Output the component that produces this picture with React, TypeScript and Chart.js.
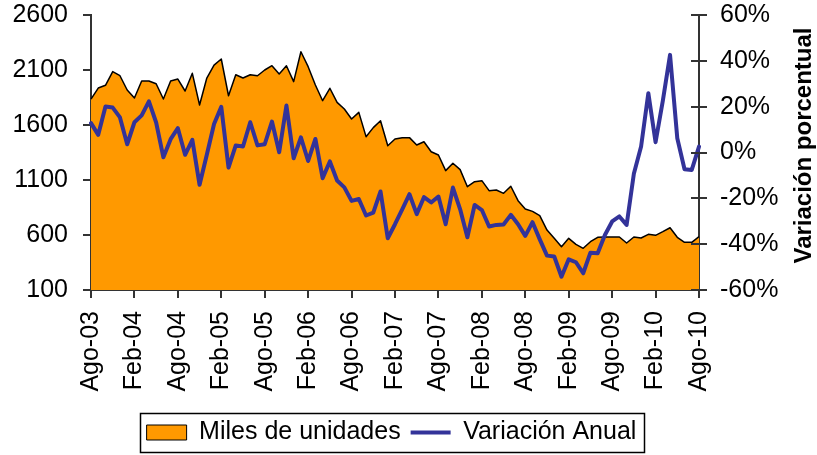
import React, { useEffect, useRef } from "react";
import { Chart, registerables } from "chart.js";

Chart.register(...registerables);

const CATEGORIES = [
  "Ago-03", "Sep-03", "Oct-03", "Nov-03", "Dic-03",
  "Ene-04", "Feb-04", "Mar-04", "Abr-04", "May-04", "Jun-04", "Jul-04", "Ago-04", "Sep-04", "Oct-04", "Nov-04", "Dic-04",
  "Ene-05", "Feb-05", "Mar-05", "Abr-05", "May-05", "Jun-05", "Jul-05", "Ago-05", "Sep-05", "Oct-05", "Nov-05", "Dic-05",
  "Ene-06", "Feb-06", "Mar-06", "Abr-06", "May-06", "Jun-06", "Jul-06", "Ago-06", "Sep-06", "Oct-06", "Nov-06", "Dic-06",
  "Ene-07", "Feb-07", "Mar-07", "Abr-07", "May-07", "Jun-07", "Jul-07", "Ago-07", "Sep-07", "Oct-07", "Nov-07", "Dic-07",
  "Ene-08", "Feb-08", "Mar-08", "Abr-08", "May-08", "Jun-08", "Jul-08", "Ago-08", "Sep-08", "Oct-08", "Nov-08", "Dic-08",
  "Ene-09", "Feb-09", "Mar-09", "Abr-09", "May-09", "Jun-09", "Jul-09", "Ago-09", "Sep-09", "Oct-09", "Nov-09", "Dic-09",
  "Ene-10", "Feb-10", "Mar-10", "Abr-10", "May-10", "Jun-10", "Jul-10", "Ago-10",
];

const MILES_UNIDADES = [
  1836, 1936, 1961, 2085, 2048, 1918, 1845, 2000, 2000, 1975,
  1836, 2000, 2018, 1909, 2070, 1782, 2027, 2145, 2200, 1866,
  2057, 2027, 2057, 2048, 2100, 2139, 2064, 2139, 1994, 2266,
  2130, 1964, 1821, 1934, 1806, 1745, 1655, 1715, 1494, 1576,
  1639, 1412, 1473, 1485, 1485, 1418, 1448, 1357, 1327, 1185,
  1252, 1194, 1039, 1085, 1094, 1003, 1009, 979, 1043, 912,
  836, 815, 776, 645, 570, 494, 570, 515, 479, 539,
  579, 582, 582, 582, 527, 582, 573, 606, 597, 630,
  666, 579, 533, 533, 585,
];

const VARIACION_ANUAL = [
  12.8, 7.7, 20.1, 19.6, 15.3, 3.6, 13.2, 16.2, 22.3, 13.1,
  -2.1, 5.8, 10.6, -1.0, 5.5, -14.1, -1.0, 12.4, 19.9, -6.6,
  3.1, 2.6, 13.2, 3.1, 3.6, 13.5, 0.1, 20.5, -2.5, 6.6,
  -3.7, 5.9, -11.2, -3.9, -12.2, -15.2, -21.1, -20.3, -27.5, -26.2,
  -17.0, -37.4, -31.3, -24.8, -18.2, -26.9, -19.5, -21.8, -19.2, -31.3,
  -15.3, -24.8, -37.0, -22.9, -25.1, -32.3, -31.6, -31.4, -27.2, -31.3,
  -36.4, -30.4, -37.9, -45.0, -45.4, -54.2, -46.6, -47.9, -52.7, -43.7,
  -44.0, -36.0, -30.1, -27.9, -31.6, -9.3, 2.6, 25.9, 4.5, 22.5,
  42.6, 6.2, -7.3, -7.6, 2.6,
];

const LEFT_AXIS = { min: 100, max: 2600, step: 500 };
const RIGHT_AXIS = { min: -60, max: 60, step: 20 };
const LABEL_EVERY = 6;
const SERIES_NAMES = ["Miles de unidades", "Variación Anual"];
const RIGHT_TITLE = "Variación porcentual";

const ORANGE = "#FF9900";
const BLUE = "#333399";
const AXIS = "#333333";
const FONT = "'Liberation Sans', Arial, sans-serif";
const FS = 25;

const decorPlugin = {
  id: "decor",
  afterDraw(chart: any) {
    const ctx = chart.ctx;
    const y1 = chart.scales.y1;
    ctx.save();
    ctx.strokeStyle = AXIS;
    ctx.lineWidth = 2;
    y1.ticks.forEach((t: any) => {
      const py = Math.round(y1.getPixelForValue(t.value));
      ctx.beginPath();
      ctx.moveTo(y1.left - 8, py);
      ctx.lineTo(y1.left, py);
      ctx.stroke();
    });
    ctx.restore();

    const area = chart.chartArea;
    ctx.save();
    ctx.translate(811, (area.top + area.bottom) / 2 - 7);
    ctx.rotate(-Math.PI / 2);
    ctx.font = `bold 24px ${FONT}`;
    ctx.fillStyle = "#000";
    ctx.textAlign = "center";
    ctx.textBaseline = "alphabetic";
    ctx.fillText(RIGHT_TITLE, 0, 0);
    ctx.restore();

    const boxes = chart.legend?.legendHitBoxes || [];
    if (boxes.length) {
      let minX = Infinity, maxX = -Infinity, cy = 0;
      boxes.forEach((b: any) => {
        minX = Math.min(minX, b.left);
        maxX = Math.max(maxX, b.left + b.width);
        cy = b.top + b.height / 2;
      });
      ctx.save();
      ctx.strokeStyle = "#000";
      ctx.lineWidth = 1.5;
      ctx.strokeRect(Math.round(minX - 7) + 0.5, Math.round(cy - 19.5) + 0.5, Math.round(maxX - minX + 14), 39);
      ctx.restore();
    }
  },
};

export default function App() {
  const canvasRef = useRef<HTMLCanvasElement | null>(null);

  useEffect(() => {
    document.body.style.margin = "0";
    const canvas = canvasRef.current;
    if (!canvas) return;
    Chart.defaults.font.family = FONT;
    Chart.defaults.color = "#000";

    const chart = new Chart(canvas, {
      type: "line",
      data: {
        labels: CATEGORIES,
        datasets: [
          {
            label: SERIES_NAMES[0],
            data: MILES_UNIDADES,
            yAxisID: "y",
            backgroundColor: ORANGE,
            borderColor: "#000",
            borderWidth: 1.5,
            borderJoinStyle: "round",
            fill: "start",
            pointRadius: 0,
            tension: 0,
            order: 2,
          },
          {
            label: SERIES_NAMES[1],
            data: VARIACION_ANUAL,
            yAxisID: "y1",
            borderColor: BLUE,
            backgroundColor: BLUE,
            borderWidth: 4,
            borderJoinStyle: "round",
            borderCapStyle: "round",
            fill: false,
            pointRadius: 0,
            tension: 0,
            order: 1,
          },
        ],
      },
      options: {
        responsive: false,
        animation: false,
        layout: { padding: { top: 15, right: 34, bottom: 0, left: 0 } },
        plugins: {
          tooltip: { enabled: false },
          legend: {
            position: "bottom",
            labels: {
              usePointStyle: true,
              pointStyleWidth: 40,
              boxHeight: 15,
              padding: 10,
              color: "#000",
              font: { size: FS },
              generateLabels: () => [
                {
                  text: SERIES_NAMES[0],
                  fillStyle: ORANGE,
                  strokeStyle: "#000",
                  lineWidth: 1,
                  pointStyle: "rect",
                  datasetIndex: 0,
                  hidden: false,
                },
                {
                  text: SERIES_NAMES[1],
                  fillStyle: BLUE,
                  strokeStyle: BLUE,
                  lineWidth: 4,
                  pointStyle: "line",
                  datasetIndex: 1,
                  hidden: false,
                },
              ],
            },
          },
        },
        scales: {
          x: {
            type: "category",
            offset: false,
            grid: {
              drawOnChartArea: false,
              drawTicks: true,
              tickLength: 8,
              lineWidth: 2,
              color: (c: any) => (c.index % LABEL_EVERY === 0 ? AXIS : "rgba(0,0,0,0)"),
            },
            border: { display: true, color: AXIS, width: 2 },
            ticks: {
              autoSkip: false,
              maxRotation: 90,
              minRotation: 90,
              padding: 13,
              color: "#000",
              font: { size: FS },
              callback: (_v: any, i: number) => (i % LABEL_EVERY === 0 ? CATEGORIES[i] : ""),
            },
            afterFit: (s: any) => {
              s.height = 120;
            },
          },
          y: {
            position: "left",
            min: LEFT_AXIS.min,
            max: LEFT_AXIS.max,
            grid: { drawOnChartArea: false, drawTicks: true, tickLength: 8, lineWidth: 2, color: AXIS },
            border: { display: true, color: AXIS, width: 2 },
            ticks: {
              stepSize: LEFT_AXIS.step,
              padding: 15,
              color: "#000",
              font: { size: FS },
              callback: (v: any) => String(v),
            },
            afterFit: (s: any) => {
              s.width = 91;
              s.paddingTop = 0;
              s.paddingBottom = 0;
            },
          },
          y1: {
            position: "right",
            min: RIGHT_AXIS.min,
            max: RIGHT_AXIS.max,
            grid: { drawOnChartArea: false, drawTicks: true, tickLength: 8, lineWidth: 2, color: AXIS },
            border: { display: true, color: AXIS, width: 2 },
            ticks: {
              stepSize: RIGHT_AXIS.step,
              padding: 13,
              color: "#000",
              font: { size: FS },
              callback: (v: any) => `${v}%`,
            },
            afterFit: (s: any) => {
              s.width = 84;
              s.paddingTop = 0;
              s.paddingBottom = 0;
            },
          },
        },
      },
      plugins: [decorPlugin],
    });

    return () => chart.destroy();
  }, []);

  return (
    <div style={{ width: 817, height: 455 }}>
      <canvas ref={canvasRef} width={817} height={455} />
    </div>
  );
}
